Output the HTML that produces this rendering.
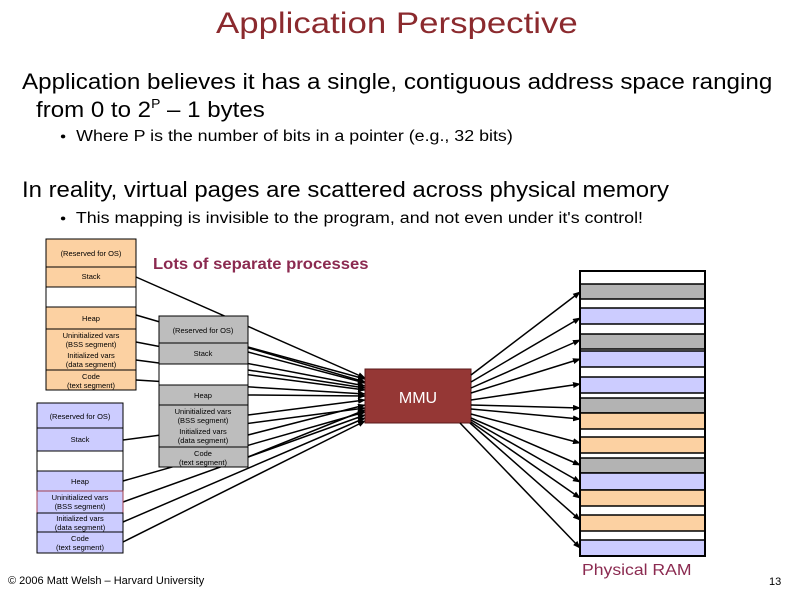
<!DOCTYPE html>
<html><head><meta charset="utf-8"><style>
body{margin:0;width:794px;height:595px;background:#fff;position:relative;overflow:hidden;font-family:"Liberation Sans",Arial,sans-serif}
.t{position:absolute;white-space:nowrap;color:#000;transform-origin:0 0}
</style></head><body>
<div class="t" style="left:216px;top:7px;font-size:30px;color:#8b2a2e;transform:scaleX(1.16)">Application Perspective</div>
<div class="t" style="left:22px;top:69px;font-size:22.5px;transform:scaleX(1.075)">Application believes it has a single, contiguous address space ranging</div>
<div class="t" style="left:36px;top:96px;font-size:22.5px;transform:scaleX(1.07)">from 0 to 2<sup style="font-size:13px;vertical-align:9px">P</sup> – 1 bytes</div>
<div class="t" style="left:60px;top:128px;font-size:15.5px;transform:scaleX(1.15)"><span style="font-size:9px;vertical-align:2px">●</span>&nbsp; Where P is the number of bits in a pointer (e.g., 32 bits)</div>
<div class="t" style="left:22px;top:177px;font-size:22.5px;transform:scaleX(1.063)">In reality, virtual pages are scattered across physical memory</div>
<div class="t" style="left:60px;top:210px;font-size:15.5px;transform:scaleX(1.15)"><span style="font-size:9px;vertical-align:2px">●</span>&nbsp; This mapping is invisible to the program, and not even under it's control!</div>
<div class="t" style="left:153px;top:256px;font-size:16px;font-weight:bold;color:#8b2a50;transform:scaleX(1.04)">Lots of separate processes</div>
<div class="t" style="left:582px;top:562px;font-size:16px;color:#8b2a50;transform:scaleX(1.1)">Physical RAM</div>
<div class="t" style="left:8px;top:575px;font-size:11px">© 2006 Matt Welsh – Harvard University</div>
<div class="t" style="left:769px;top:576px;font-size:11px">13</div>
<svg width="794" height="595" style="position:absolute;left:0;top:0" font-family="Liberation Sans, Arial, sans-serif" font-size="7.5" text-anchor="middle">
<defs><marker id="a" markerWidth="8" markerHeight="6" refX="7" refY="3" orient="auto" markerUnits="userSpaceOnUse"><path d="M0,0L8,3L0,6z"/></marker></defs>
<!-- arrows into MMU (drawn first, behind boxes) -->
<g stroke="#000" stroke-width="1.5" marker-end="url(#a)">
<line x1="136" y1="277" x2="365" y2="378"/>
<line x1="136" y1="315" x2="365" y2="382"/>
<line x1="136" y1="342" x2="365" y2="386"/>
<line x1="136" y1="360" x2="365" y2="390"/>
<line x1="136" y1="380" x2="365" y2="394"/>
<line x1="248" y1="347" x2="365" y2="379"/>
<line x1="248" y1="352" x2="365" y2="383"/>
<line x1="248" y1="370" x2="365" y2="388"/>
<line x1="248" y1="395" x2="365" y2="396"/>
<line x1="248" y1="415" x2="365" y2="400"/>
<line x1="248" y1="435" x2="365" y2="405"/>
<line x1="248" y1="457" x2="365" y2="410"/>
<line x1="123" y1="440" x2="365" y2="408"/>
<line x1="123" y1="481" x2="365" y2="412"/>
<line x1="123" y1="502" x2="365" y2="415"/>
<line x1="123" y1="522" x2="365" y2="418"/>
<line x1="123" y1="542" x2="365" y2="421"/>
</g>
<!-- orange process -->
<g stroke="#000" stroke-width="1">
<rect x="46" y="239" width="90" height="28" fill="#fcd1a2"/>
<rect x="46" y="267" width="90" height="20" fill="#fcd1a2"/>
<rect x="46" y="287" width="90" height="20" fill="#fff"/>
<rect x="46" y="307" width="90" height="22" fill="#fcd1a2"/>
<rect x="46" y="329" width="90" height="41" fill="#fcd1a2"/>
<rect x="46" y="370" width="90" height="20" fill="#fcd1a2"/>
</g>
<g>
<text x="91" y="256">(Reserved for OS)</text><text x="91" y="279">Stack</text><text x="91" y="321">Heap</text>
<text x="91" y="338">Uninitialized vars</text><text x="91" y="347">(BSS segment)</text>
<text x="91" y="358">Initialized vars</text><text x="91" y="367">(data segment)</text>
<text x="91" y="379">Code</text><text x="91" y="388">(text segment)</text>
</g>
<!-- gray process -->
<g stroke="#000" stroke-width="1">
<rect x="159" y="316" width="89" height="27" fill="#bdbdbd"/>
<rect x="159" y="343" width="89" height="21" fill="#bdbdbd"/>
<rect x="159" y="364" width="89" height="21" fill="#fff"/>
<rect x="159" y="385" width="89" height="20" fill="#bdbdbd"/>
<rect x="159" y="405" width="89" height="42" fill="#bdbdbd"/>
<rect x="159" y="447" width="89" height="20" fill="#bdbdbd"/>
</g>
<g>
<text x="203" y="333">(Reserved for OS)</text><text x="203" y="356">Stack</text><text x="203" y="398">Heap</text>
<text x="203" y="414">Uninitialized vars</text><text x="203" y="423">(BSS segment)</text>
<text x="203" y="434">Initialized vars</text><text x="203" y="443">(data segment)</text>
<text x="203" y="456">Code</text><text x="203" y="465">(text segment)</text>
</g>
<!-- blue process -->
<g stroke="#000" stroke-width="1">
<rect x="37" y="403" width="86" height="25" fill="#ccccff"/>
<rect x="37" y="428" width="86" height="23" fill="#ccccff"/>
<rect x="37" y="451" width="86" height="20" fill="#fff"/>
<rect x="37" y="471" width="86" height="20" fill="#ccccff"/>
<rect x="37" y="491" width="86" height="22" fill="#ccccff" stroke="#a04050"/>
<rect x="37" y="513" width="86" height="19" fill="#ccccff"/>
<rect x="37" y="532" width="86" height="21" fill="#ccccff"/>
</g>
<g>
<text x="80" y="419">(Reserved for OS)</text><text x="80" y="442">Stack</text><text x="80" y="484">Heap</text>
<text x="80" y="500">Uninitialized vars</text><text x="80" y="509">(BSS segment)</text>
<text x="80" y="521">Initialized vars</text><text x="80" y="530">(data segment)</text>
<text x="80" y="541">Code</text><text x="80" y="550">(text segment)</text>
</g>
<!-- MMU -->
<rect x="365" y="369" width="106" height="54" fill="#953735" stroke="#5a1a1a"/>
<text x="418" y="403" font-size="16" fill="#fff">MMU</text>
<!-- RAM -->
<rect x="580" y="271" width="125" height="285" fill="#fff" stroke="#000" stroke-width="2"/>
<g stroke="#000" stroke-width="1.5">
<rect x="580" y="284" width="125" height="15" fill="#b3b3b3"/>
<rect x="580" y="308" width="125" height="16" fill="#ccccff"/>
<rect x="580" y="334" width="125" height="15" fill="#b3b3b3"/>
<rect x="580" y="351" width="125" height="16" fill="#ccccff"/>
<rect x="580" y="377" width="125" height="16" fill="#ccccff"/>
<rect x="580" y="398" width="125" height="15" fill="#b3b3b3"/>
<rect x="580" y="413" width="125" height="16" fill="#fcd1a2"/>
<rect x="580" y="437" width="125" height="16" fill="#fcd1a2"/>
<rect x="580" y="458" width="125" height="15" fill="#b3b3b3"/>
<rect x="580" y="473" width="125" height="17" fill="#ccccff"/>
<rect x="580" y="490" width="125" height="16" fill="#fcd1a2"/>
<rect x="580" y="515" width="125" height="16" fill="#fcd1a2"/>
<rect x="580" y="540" width="125" height="16" fill="#ccccff"/>
</g>
<rect x="580" y="271" width="125" height="285" fill="none" stroke="#000" stroke-width="2"/>
<!-- arrows out of MMU -->
<g stroke="#000" stroke-width="1.5" marker-end="url(#a)">
<line x1="471" y1="375" x2="580" y2="292"/>
<line x1="471" y1="382" x2="580" y2="318"/>
<line x1="471" y1="388" x2="580" y2="340"/>
<line x1="471" y1="393" x2="580" y2="359"/>
<line x1="471" y1="400" x2="580" y2="384"/>
<line x1="471" y1="405" x2="580" y2="408"/>
<line x1="471" y1="409" x2="580" y2="419"/>
<line x1="471" y1="414" x2="580" y2="443"/>
<line x1="471" y1="418" x2="580" y2="465"/>
<line x1="471" y1="420" x2="580" y2="482"/>
<line x1="471" y1="422" x2="580" y2="498"/>
<line x1="470" y1="423" x2="580" y2="520"/>
<line x1="460" y1="423" x2="580" y2="548"/>
</g>
</svg>
</body></html>
